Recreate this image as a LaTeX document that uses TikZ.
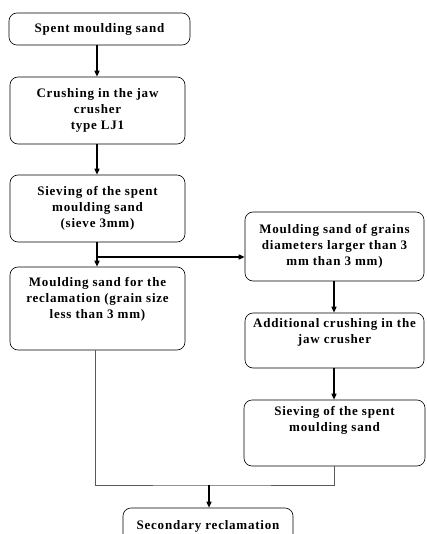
\documentclass[tikz,border=0pt]{standalone}
\usepackage{fontspec}
\setmainfont{Liberation Serif}[LetterSpace=6]
\usetikzlibrary{arrows.meta}
\begin{document}
\begin{tikzpicture}[x=1pt,y=-1pt,
  box/.style={draw,rounded corners=8pt,line width=0.6pt,align=center,inner sep=2pt,
    font=\bfseries\fontsize{13}{16}\selectfont},
  arr/.style={-{Triangle[length=6pt,width=5pt]},line width=1.4pt,black},
  thin/.style={draw=black!65,line width=0.8pt}]
\useasboundingbox (0,0) rectangle (426,534);
\clip (0,0) rectangle (426,534);
\node[box,minimum width=181pt,minimum height=32pt] (b1) at (99.5,29) {Spent moulding sand};
\node[box,minimum width=175pt,minimum height=67pt] (b2) at (97.5,110.5) {Crushing in the jaw\\crusher\\type LJ1};
\node[box,minimum width=175pt,minimum height=67pt] (b3) at (97.5,208.5) {Sieving of the spent\\moulding sand\\(sieve 3mm)};
\node[box,minimum width=175pt,minimum height=83pt] (b4) at (97.5,308.5) {Moulding sand for the\\reclamation (grain size\\less than 3 mm)\\[6pt]};
\node[box,minimum width=179pt,minimum height=69pt] (a) at (334.5,246.5) {Moulding sand of grains\\diameters larger than 3\\mm than 3 mm)};
\node[box,minimum width=179pt,minimum height=55pt] (b) at (334.5,340.5) {Additional crushing in the\\jaw crusher\\[3pt]};
\node[box,minimum width=181pt,minimum height=66pt] (c) at (334.5,433) {Sieving of the spent\\moulding sand\\[12pt]};
\node[box,minimum width=170pt,minimum height=36pt] (d) at (208,526) {Secondary reclamation};
\coordinate (j) at (97,257);
\coordinate (m) at (209,485);
\draw[arr] (b1.south -| 97,0) -- (b2.north -| 97,0);
\draw[arr] (b2.south -| 97,0) -- (b3.north -| 97,0);
\draw[line width=1.4pt] (b3.south -| j) -- (j);
\draw[arr] (j) -- (b4.north -| j);
\draw[arr] (j) -- (a.west |- j);
\draw[arr] (a.south -| 334,0) -- (b.north -| 334,0);
\draw[arr] (b.south -| 334,0) -- (c.north -| 334,0);
\draw[thin] (b4.south -| 95,0) |- (m) -| (c.south -| 334,0);
\draw[arr] (m) -- (d.north -| m);
\end{tikzpicture}
\end{document}
